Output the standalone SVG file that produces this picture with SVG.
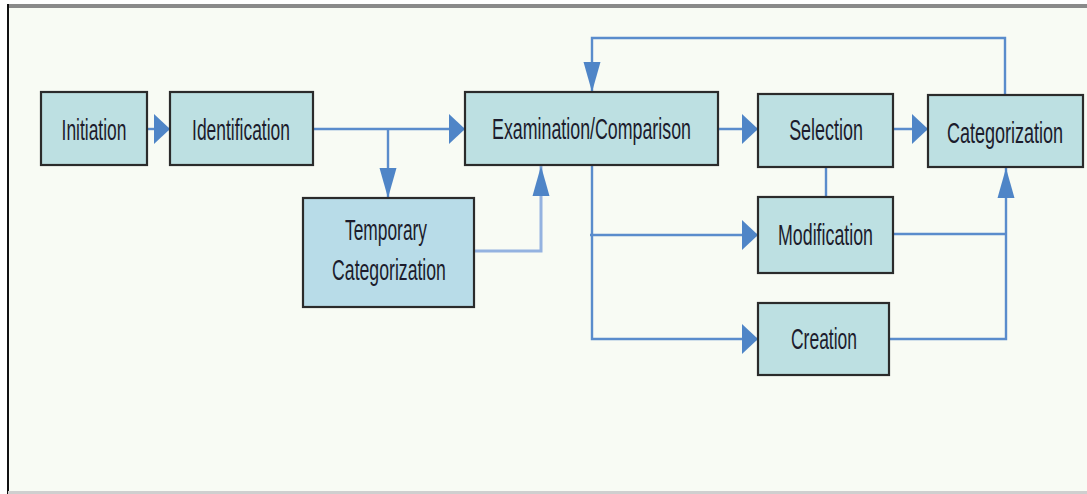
<svg xmlns="http://www.w3.org/2000/svg" width="1087" height="494" viewBox="0 0 1087 494">
<defs>
<style>
.box{fill:#bde0e2;stroke:#2b2b2b;stroke-width:2.2}
.tmp{fill:#b8dce8;stroke:#2b2b2b;stroke-width:2.2}
.lbl{font-family:"Liberation Sans",Arial,sans-serif;font-size:30px;fill:#1c1c2c;text-anchor:middle}
.ln{fill:none;stroke:#5a8ccc;stroke-width:2.4}
.ln2{fill:none;stroke:#94b2e0;stroke-width:3}
</style>
<marker id="ah" markerUnits="userSpaceOnUse" markerWidth="17" markerHeight="32" refX="16" refY="16" orient="auto" viewBox="0 0 17 32">
<path d="M0,1 L16,16 L0,31 Z" fill="#4f85c7"/>
</marker>
<marker id="av" markerUnits="userSpaceOnUse" markerWidth="31" markerHeight="18" refX="30" refY="9" orient="auto" viewBox="0 0 31 18">
<path d="M0,0.5 L30,9 L0,17.5 Z" fill="#4f85c7"/>
</marker>
</defs>
<rect x="0" y="0" width="1087" height="494" fill="#ffffff"/>
<rect x="8" y="5" width="1079" height="488" fill="#f8fbf4"/>
<rect x="8" y="4" width="1079" height="4" fill="#8a8a8a"/>
<rect x="7" y="4" width="2" height="490" fill="#111111"/>
<rect x="8" y="491" width="1079" height="3" fill="#cfcfcf"/>

<g id="connectors">
<path class="ln" d="M147,129 H170" marker-end="url(#ah)"/>
<path class="ln" d="M313,129 H465" marker-end="url(#ah)"/>
<path class="ln" d="M388,129 V198" marker-end="url(#av)"/>
<path class="ln2" d="M474,251 H541 V166" marker-end="url(#av)"/>
<path class="ln" d="M718,129 H758" marker-end="url(#ah)"/>
<path class="ln" d="M893,129 H928" marker-end="url(#ah)"/>
<path class="ln" d="M1005,95 V38 H592 V92" marker-end="url(#av)"/>
<path class="ln" d="M592,165 V339 H758" marker-end="url(#ah)"/>
<path class="ln" d="M590,235 H758" marker-end="url(#ah)"/>
<path class="ln" d="M826,167 V197"/>
<path class="ln" d="M893,234 H1006"/>
<path class="ln" d="M889,339 H1006 V168" marker-end="url(#av)"/>
</g>

<g id="initiation">
<rect class="box" x="41" y="92" width="106" height="73"/>
<text class="lbl" transform="translate(94,140) scale(0.59,1)" x="0" y="0" textLength="110" lengthAdjust="spacingAndGlyphs">Initiation</text>
</g>
<g id="identification">
<rect class="box" x="170" y="92" width="143" height="73"/>
<text class="lbl" transform="translate(241,140) scale(0.59,1)" x="0" y="0" textLength="166" lengthAdjust="spacingAndGlyphs">Identification</text>
</g>
<g id="examination">
<rect class="box" x="465" y="92" width="253" height="73"/>
<text class="lbl" transform="translate(591.5,139) scale(0.59,1)" x="0" y="0" textLength="337" lengthAdjust="spacingAndGlyphs">Examination/Comparison</text>
</g>
<g id="temporary">
<rect class="tmp" x="303" y="198" width="171" height="109"/>
<text class="lbl" transform="translate(386,240) scale(0.59,1)" x="0" y="0" textLength="139" lengthAdjust="spacingAndGlyphs">Temporary</text>
<text class="lbl" transform="translate(389,280) scale(0.59,1)" x="0" y="0" textLength="193" lengthAdjust="spacingAndGlyphs">Categorization</text>
</g>
<g id="selection">
<rect class="box" x="758" y="94" width="135" height="73"/>
<text class="lbl" transform="translate(826,140) scale(0.59,1)" x="0" y="0" textLength="125" lengthAdjust="spacingAndGlyphs">Selection</text>
</g>
<g id="categorization">
<rect class="box" x="928" y="95" width="155" height="72"/>
<text class="lbl" transform="translate(1005,143) scale(0.59,1)" x="0" y="0" textLength="197" lengthAdjust="spacingAndGlyphs">Categorization</text>
</g>
<g id="modification">
<rect class="box" x="758" y="197" width="135" height="76"/>
<text class="lbl" transform="translate(825.5,245) scale(0.59,1)" x="0" y="0" textLength="161" lengthAdjust="spacingAndGlyphs">Modification</text>
</g>
<g id="creation">
<rect class="box" x="758" y="303" width="131" height="72"/>
<text class="lbl" transform="translate(824,349) scale(0.59,1)" x="0" y="0" textLength="112" lengthAdjust="spacingAndGlyphs">Creation</text>
</g>
</svg>
